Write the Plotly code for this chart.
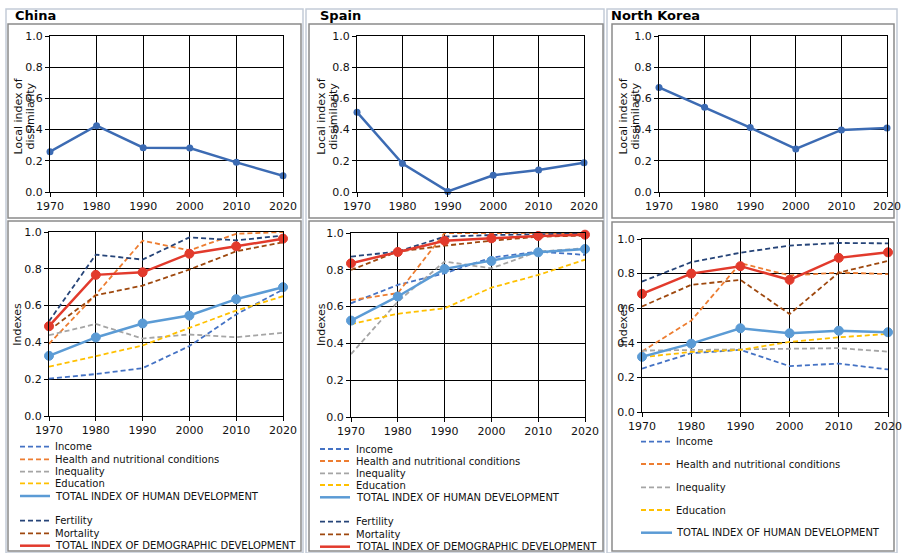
import plotly.graph_objects as go

W, H = 905, 553

years = [1970, 1980, 1990, 2000, 2010, 2020]

# Top row: local index of dissimilarity
china_dissim = [0.258, 0.425, 0.284, 0.282, 0.190, 0.104]
spain_dissim = [0.512, 0.182, 0.004, 0.107, 0.141, 0.188]
nk_dissim = [0.670, 0.544, 0.413, 0.276, 0.398, 0.411]

# Bottom row: indexes
china_income = [0.203, 0.228, 0.260, 0.380, 0.552, 0.687]
china_health = [0.392, 0.660, 0.953, 0.900, 0.990, 1.000]
china_inequality = [0.439, 0.500, 0.421, 0.443, 0.428, 0.452]
china_education = [0.268, 0.325, 0.383, 0.479, 0.573, 0.651]
china_total_hd = [0.327, 0.427, 0.503, 0.546, 0.635, 0.700]
china_fertility = [0.515, 0.877, 0.850, 0.971, 0.955, 0.980]
china_mortality = [0.465, 0.656, 0.709, 0.796, 0.895, 0.944]
china_total_dd = [0.488, 0.767, 0.781, 0.882, 0.922, 0.964]

spain_income = [0.618, 0.718, 0.781, 0.866, 0.899, 0.881]
spain_health = [0.635, 0.673, 1.000, 1.000, 1.000, 1.000]
spain_inequality = [0.342, 0.627, 0.845, 0.808, 0.899, 0.917]
spain_education = [0.505, 0.561, 0.591, 0.703, 0.772, 0.855]
spain_total_hd = [0.524, 0.655, 0.805, 0.848, 0.895, 0.913]
spain_fertility = [0.872, 0.899, 0.980, 0.989, 0.993, 0.998]
spain_mortality = [0.799, 0.899, 0.931, 0.958, 0.980, 0.986]
spain_total_dd = [0.835, 0.897, 0.958, 0.971, 0.984, 0.991]

nk_income = [0.251, 0.340, 0.359, 0.265, 0.280, 0.246]
nk_health = [0.350, 0.528, 0.860, 0.789, 0.806, 0.797]
nk_inequality = [0.355, 0.359, 0.361, 0.365, 0.369, 0.349]
nk_education = [0.317, 0.347, 0.359, 0.405, 0.432, 0.451]
nk_total_hd = [0.319, 0.395, 0.484, 0.455, 0.470, 0.461]
nk_fertility = [0.754, 0.866, 0.921, 0.962, 0.977, 0.975]
nk_mortality = [0.610, 0.735, 0.764, 0.566, 0.806, 0.873]
nk_total_dd = [0.683, 0.800, 0.843, 0.764, 0.891, 0.923]

countries = ["China", "Spain", "North Korea"]

series_names = ["Income", "Health and nutritional conditions", "Inequality", "Education",
                "TOTAL INDEX OF HUMAN DEVELOPMENT", "Fertility", "Mortality",
                "TOTAL INDEX OF DEMOGRAPHIC DEVELOPMENT"]
series_colors = ["#4472c4", "#ed7d31", "#a5a5a5", "#ffc000", "#5b9bd5",
                 "#264478", "#9e480e", "#e23a2c"]
series_dashed = [True, True, True, True, False, True, True, False]

bottom_data = [
    [china_income, china_health, china_inequality, china_education, china_total_hd,
     china_fertility, china_mortality, china_total_dd],
    [spain_income, spain_health, spain_inequality, spain_education, spain_total_hd,
     spain_fertility, spain_mortality, spain_total_dd],
    [nk_income, nk_health, nk_inequality, nk_education, nk_total_hd,
     nk_fertility, nk_mortality, nk_total_dd],
]
top_data = [china_dissim, spain_dissim, nk_dissim]

FONT = "DejaVu Sans"
TXT = "#111111"


def px(x):
    return x / W


def py(y):
    return 1 - y / H


# plot-area pixel boxes (x0, x1, ytop, ybottom)
top_boxes = [(50, 283, 36, 192), (357, 584, 36, 192), (659, 887, 36, 192)]
bottom_boxes = [(49, 283, 232, 416), (351, 585, 233, 417), (642, 888, 239, 412)]

fig = go.Figure()
layout = dict(
    width=W, height=H, autosize=False,
    margin=dict(l=0, r=0, t=0, b=0, autoexpand=False),
    paper_bgcolor="white", plot_bgcolor="white",
    showlegend=False,
    font=dict(family=FONT, size=11, color=TXT),
)


def axis_common():
    return dict(
        showline=True, linecolor="black", linewidth=1, mirror=True,
        showgrid=True, gridcolor="black", gridwidth=1,
        ticks="outside", ticklen=4, tickwidth=1, tickcolor="black",
        tickfont=dict(family=FONT, size=11, color=TXT),
        zeroline=False, fixedrange=True, automargin=False,
    )


ax_i = 0
for c in range(3):
    for row, boxes in ((0, top_boxes), (1, bottom_boxes)):
        ax_i += 1
        x0, x1, yt, yb = boxes[c]
        xa = axis_common()
        xa.update(domain=[px(x0), px(x1)], range=[1970, 2020],
                  tickvals=years, anchor="y%d" % ax_i)
        ya = axis_common()
        ya.update(domain=[py(yb), py(yt)], range=[0, 1],
                  tickvals=[0, 0.2, 0.4, 0.6, 0.8, 1.0], tickformat=".1f",
                  anchor="x%d" % ax_i)
        layout["xaxis%d" % ax_i if ax_i > 1 else "xaxis"] = xa
        layout["yaxis%d" % ax_i if ax_i > 1 else "yaxis"] = ya
        xr = "x%d" % ax_i if ax_i > 1 else "x"
        yr = "y%d" % ax_i if ax_i > 1 else "y"
        if row == 0:
            fig.add_trace(go.Scatter(
                x=years, y=top_data[c], xaxis=xr, yaxis=yr, mode="lines+markers",
                line=dict(color="#3c6bb3", width=2.5),
                marker=dict(size=7, color="#3c6bb3"), cliponaxis=False,
                name="Local index of dissimilarity"))
        else:
            for k in range(8):
                if series_dashed[k]:
                    fig.add_trace(go.Scatter(
                        x=years, y=bottom_data[c][k], xaxis=xr, yaxis=yr, mode="lines",
                        line=dict(color=series_colors[k], width=1.8, dash="5px,3px"),
                        cliponaxis=False, name=series_names[k]))
            for k in range(8):
                if not series_dashed[k]:
                    fig.add_trace(go.Scatter(
                        x=years, y=bottom_data[c][k], xaxis=xr, yaxis=yr,
                        mode="lines+markers",
                        line=dict(color=series_colors[k], width=2.5),
                        marker=dict(size=9, color=series_colors[k],
                                    line=dict(color=series_colors[k], width=1)),
                        cliponaxis=False, name=series_names[k]))

shapes = []
annotations = []


def rect(x0, y0, x1, y1, color, width):
    shapes.append(dict(type="rect", xref="paper", yref="paper",
                       x0=px(x0), x1=px(x1), y0=py(y1), y1=py(y0),
                       line=dict(color=color, width=width), fillcolor="rgba(0,0,0,0)",
                       layer="below"))


def text(t, x, y, size, angle=0, xanchor="center", bold=False):
    annotations.append(dict(text="<b>%s</b>" % t if bold else t, xref="paper", yref="paper",
                            x=px(x), y=py(y), xanchor=xanchor, yanchor="middle",
                            textangle=angle, showarrow=False,
                            font=dict(family=FONT, size=size,
                                      color="black" if bold else TXT)))


# column cards
cards = [(6, 9, 303, 553), (306, 9, 604, 553), (607, 9, 897, 553)]
for cx0, cy0, cx1, cy1 in cards:
    rect(cx0, cy0, cx1, cy1, "#c3ccd8", 1.5)
# inner frames
inner_top = [(8, 24, 301, 218), (309, 24, 603, 218), (612, 24, 894, 218)]
inner_bottom = [(8, 221, 301, 551), (309, 221, 603, 551), (612, 222, 894, 551)]
for b in inner_top + inner_bottom:
    rect(*b, "#8a8a8a", 1.5)

# titles
title_x = [13, 318, 609]
for c in range(3):
    text(countries[c], title_x[c], 15.5, 13, xanchor="left", bold=True)

# axis titles (matplotlib style, overlapping the tick labels)
dissim_x = [(17.5, 29.5), (320.7, 332.7), (622.5, 634.5)]
for x1_, x2_ in dissim_x:
    text("Local index of", x1_, 116, 11, angle=-90)
    text("dissimilarity", x2_, 116, 11, angle=-90)
indexes_pos = [(16.7, 324), (321, 325), (622.5, 325)]
for (ix, iy) in indexes_pos:
    text("Indexes", ix, iy, 11, angle=-90)

# legends (drawn as sample lines + text)
legend_specs = [
    # (line x0, line x1, text x, row y positions, series indices)
    (20, 50, 53, [446.7, 459.3, 471.7, 483.3, 496, 520.7, 533.3, 545.7], [0, 1, 2, 3, 4, 5, 6, 7]),
    (320, 350, 354, [449, 461, 473.3, 485, 497.3, 521.7, 534.3, 546.7], [0, 1, 2, 3, 4, 5, 6, 7]),
    (641, 672, 674, [441.7, 464, 487.3, 510, 532.7], [0, 1, 2, 3, 4]),
]
for lx0, lx1, tx, rows, idxs in legend_specs:
    for ry, k in zip(rows, idxs):
        shapes.append(dict(type="line", xref="paper", yref="paper",
                           x0=px(lx0), x1=px(lx1), y0=py(ry), y1=py(ry),
                           line=dict(color=series_colors[k],
                                     width=1.8 if series_dashed[k] else 2.5,
                                     dash="5px,3px" if series_dashed[k] else "solid")))
        text(series_names[k], tx, ry, 10, xanchor="left")

layout["shapes"] = shapes
layout["annotations"] = annotations
fig.update_layout(**layout)
fig.write_html(
    "out.html",
    config={"displayModeBar": False},
    post_script="document.body.style.margin='0';document.body.style.padding='0';"
                "document.documentElement.style.overflow='hidden';",
)
